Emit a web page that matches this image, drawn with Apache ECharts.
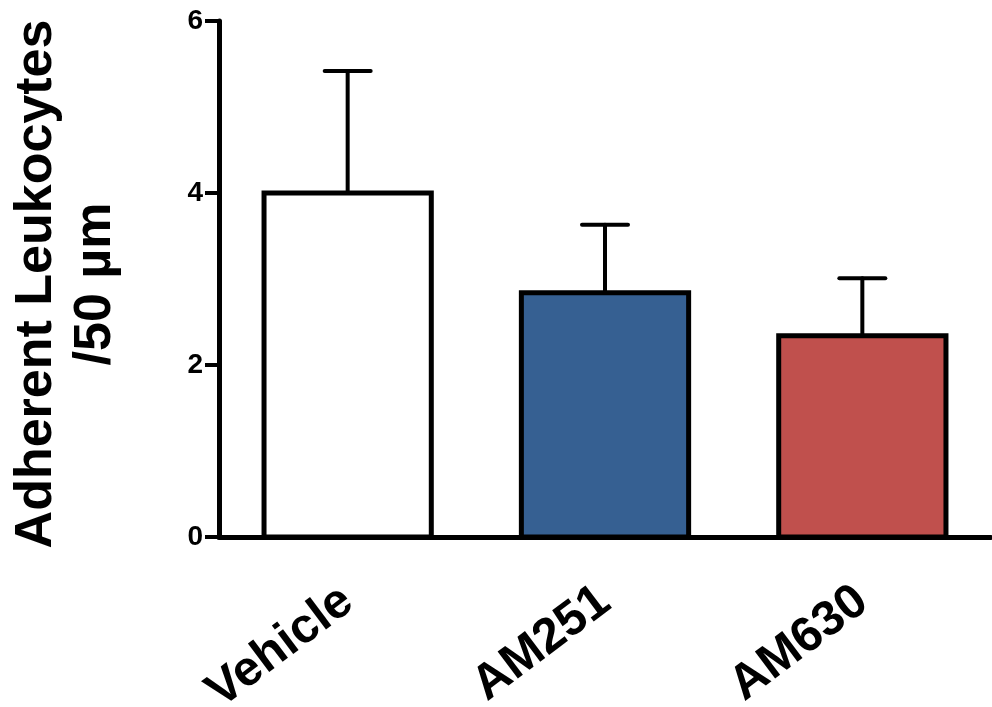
<!DOCTYPE html>
<html>
<head>
<meta charset="utf-8">
<script src="https://cdn.jsdelivr.net/npm/echarts@6/dist/echarts.min.js"></script>
<style>
  html, body { margin: 0; padding: 0; background: #fff; }
  #chart { width: 992px; height: 707px; }
</style>
</head>
<body>
<div id="chart"></div>
<script>
// Groups, means and upper SEM for adherent leukocytes
const categories = ['Vehicle', 'AM251', 'AM630'];
const means = [4.0, 2.84, 2.34];
const sem = [1.42, 0.79, 0.67];
const barColors = ['#FFFFFF', '#366092', '#C0504D'];
const yTicks = [0, 2, 4, 6];

const FONT = '"Liberation Sans", Arial, Helvetica, sans-serif';

const chart = echarts.init(document.getElementById('chart'));

// Bars are outlined with the stroke centred on the value line
function renderBar(params, api) {
  const i = api.value(0);
  const top = api.coord([i, api.value(1)]);
  const base = api.coord([i, 0]);
  const w = api.size([1, 0])[0] * 0.65;
  return {
    type: 'rect',
    shape: { x: top[0] - w / 2, y: top[1], width: w, height: base[1] - top[1] },
    style: { fill: barColors[i], stroke: '#000', lineWidth: 5, lineJoin: 'miter' }
  };
}

// Upward-only error bars with a short cap
function renderError(params, api) {
  const i = api.value(0);
  const low = api.coord([i, api.value(1)]);
  const high = api.coord([i, api.value(2)]);
  const half = 23;
  const style = { stroke: '#000', lineWidth: 4, lineCap: 'round' };
  return {
    type: 'group',
    children: [
      { type: 'line', shape: { x1: low[0], y1: low[1], x2: low[0], y2: high[1] }, style: style },
      { type: 'line', shape: { x1: low[0] - half, y1: high[1], x2: low[0] + half, y2: high[1] }, style: style }
    ]
  };
}

chart.setOption({
  animation: false,
  grid: {
    left: 219, right: 1, top: 21, bottom: 170,
    containLabel: false, outerBoundsMode: 'none'
  },
  xAxis: {
    type: 'category',
    data: categories,
    axisLine: { lineStyle: { color: '#000', width: 5 } },
    axisTick: { alignWithLabel: true, length: 14, lineStyle: { color: '#000', width: 4 } },
    axisLabel: {
      rotate: 37, margin: 59, color: '#000',
      fontFamily: FONT, fontWeight: 'bold', fontSize: 49, interval: 0
    }
  },
  yAxis: {
    type: 'value',
    min: yTicks[0], max: yTicks[yTicks.length - 1], interval: 2,
    name: 'Adherent Leukocytes\n/50 µm',
    nameLocation: 'middle', nameRotate: 90, nameGap: 94,
    nameTextStyle: {
      color: '#000', fontFamily: FONT, fontWeight: 'bold',
      fontSize: 52, lineHeight: 59, align: 'center', padding: [0, 10, 0, 0]
    },
    splitLine: { show: false },
    axisLine: { show: true, lineStyle: { color: '#000', width: 5 } },
    axisTick: { show: true, length: 14, lineStyle: { color: '#000', width: 4 } },
    axisLabel: {
      margin: 16, color: '#000',
      fontFamily: FONT, fontWeight: 'bold', fontSize: 28
    }
  },
  series: [
    {
      type: 'custom',
      z: 2,
      data: means.map((v, i) => [i, v]),
      renderItem: renderBar
    },
    {
      type: 'custom',
      z: 3,
      data: means.map((v, i) => [i, v, v + sem[i]]),
      renderItem: renderError
    }
  ]
});
</script>
</body>
</html>
